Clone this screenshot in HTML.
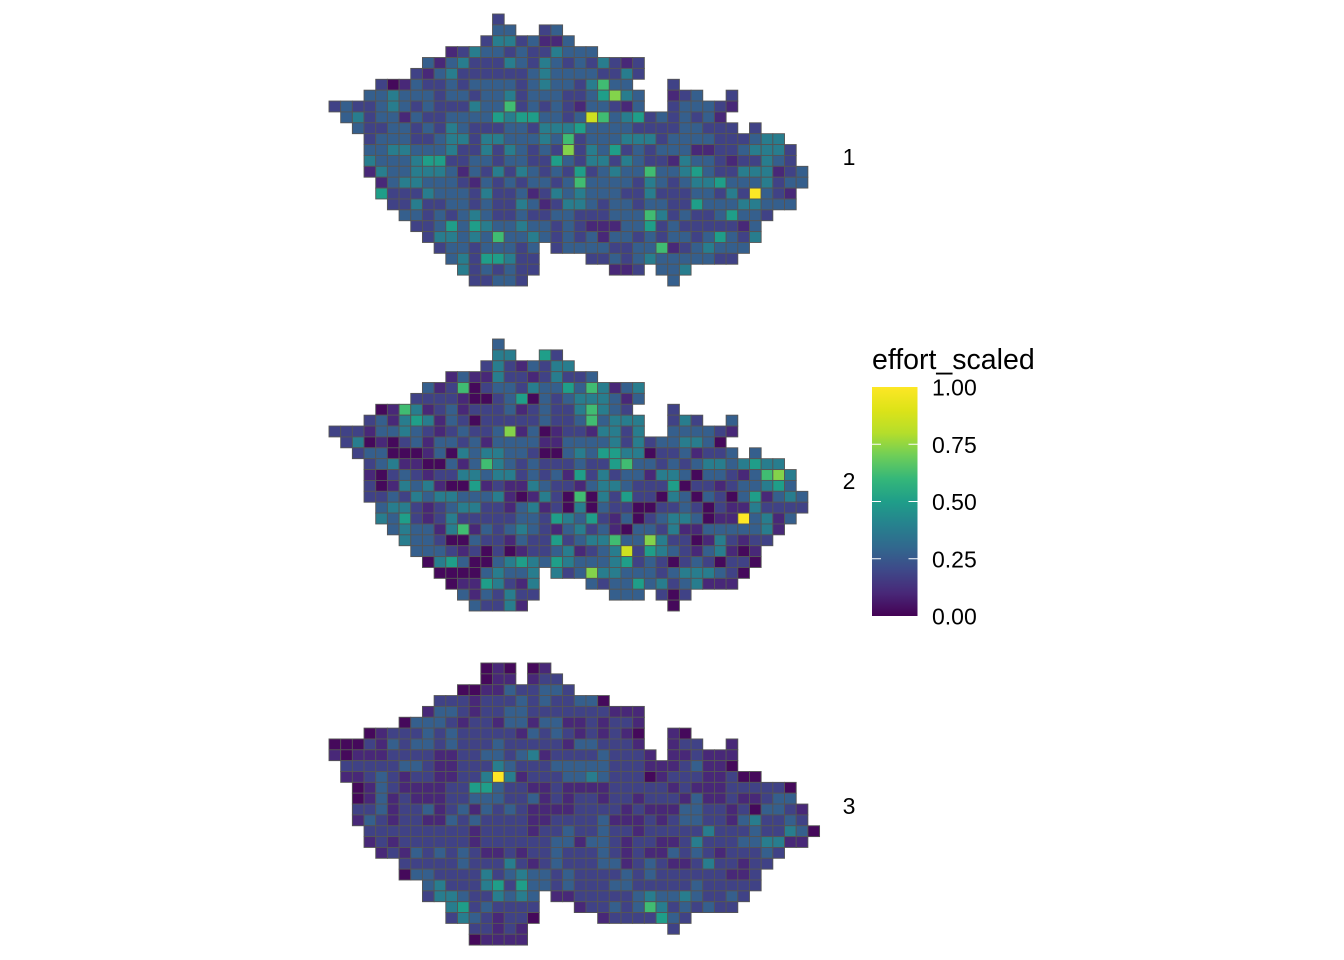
<!DOCTYPE html>
<html><head><meta charset="utf-8"><style>
html,body{margin:0;padding:0;background:#fff;}
svg{display:block;font-family:"Liberation Sans",Arial,sans-serif;}
</style></head><body>
<svg id="chart" width="1344" height="960" viewBox="0 0 1344 960" xmlns="http://www.w3.org/2000/svg">
<defs>
<linearGradient id="vir" x1="0" y1="1" x2="0" y2="0">
<stop offset="0" stop-color="#440154"/><stop offset="0.1" stop-color="#482878"/><stop offset="0.2" stop-color="#3e4989"/><stop offset="0.3" stop-color="#31688e"/><stop offset="0.4" stop-color="#26828e"/><stop offset="0.5" stop-color="#1f9e89"/><stop offset="0.6" stop-color="#35b779"/><stop offset="0.7" stop-color="#6ece58"/><stop offset="0.8" stop-color="#b5de2b"/><stop offset="0.9" stop-color="#dde318"/><stop offset="1" stop-color="#fde725"/>
</linearGradient>
</defs>
<g id="panels"></g>
<g id="legend">
<text x="872" y="369" font-size="28.5">effort_scaled</text>
<rect x="872" y="387" width="45.5" height="229" fill="url(#vir)"/>
<g id="legendTicks"></g>
</g>
</svg>
<script>
// value levels encoded as digits 0-9
const levelValues = [0.02,0.1,0.18,0.27,0.38,0.5,0.62,0.73,0.86,1.0];
const legendTicks = [0,0.25,0.5,0.75,1];
const legendLabels = ["0.00","0.25","0.50","0.75","1.00"];
const panelNames = ["1","2","3"];
// rows: list of [startCol, digits]
const panel1Rows = [
[[14,"2"]],
[[14,"33"],[18,"23"]],
[[13,"24423113"]],
[[10,"1243323224333"]],
[[8,"3134222432432324212"]],
[[7,"21342222223433332242"]],
[[4,"2013223233332343324633"],[29,"2"]],
[[3,"334333233233423332235743"],[29,"123"],[34,"2"]],
[[0,"232234323222433623232133213"],[29,"233321"]],
[[1,"342331322333354553323863452323231"]],
[[2,"322332324322233244453333222233222"],[36,"2"]],
[[3,"233322344244333436233344423333222344"]],
[[3,"3344333422424323272435232333112234442"]],
[[3,"4333455223323322532442432214332122432"]],
[[3,"14334443132424323252343363345322444123"]],
[[4,"1344333213232332363333243234453334233"]],
[[4,"522243332422312434333224222332429321"]],
[[5,"22422332322431244323323322533344333"]],
[[6,"33232343223223322233364232235332"]],
[[7,"223535433433232111335232222213"]],
[[8,"24434363343232313323233235324"]],
[[9,"233233323"],[19,"23333223361234333"]],
[[10,"34255422"],[22,"2232343333322"]],
[[11,"4232322"],[24,"112"],[28,"334"]],
[[12,"22332"],[29,"3"]]
];
const panel2Rows = [
[[14,"3"]],
[[14,"44"],[18,"52"]],
[[13,"24213244"]],
[[10,"1311422124223"]],
[[8,"3126023324335364134"]],
[[7,"22221002350323444313"]],
[[4,"0164123122231232246432"],[29,"2"]],
[[3,"231454132022222322363444"],[29,"242"],[34,"3"]],
[[0,"222133432123223713012214424"],[29,"333321"]],
[[1,"240102313323133331133334242334430"]],
[[2,"233000130434433200343554402231223"],[36,"3"]],
[[3,"234110031364323222322563323234434544"]],
[[3,"1023212244344232315242331443033213674"]],
[[3,"2014341005121143221344322250221233453"]],
[[3,"22324344333410142060425220430320351343"]],
[[4,"3442123442213412040322002232021142222"]],
[[4,"435212422222332543521302344301193413"]],
[[5,"3433146132343213423103324113333341"]],
[[6,"43320032213225234463374220142122"]],
[[7,"333212020122341234825432134101"]],
[[8,"04530034543543334523202320220"]],
[[9,"000034334"],[19,"42374433323444320"]],
[[10,"01154214"],[22,"3233534234111"]],
[[11,"3132422"],[24,"333"],[28,"202"]],
[[12,"32241"],[29,"0"]]
];
const panel3Rows = [
[[13,"010"],[17,"01"]],
[[13,"011"],[17,"122"]],
[[11,"0011322332"]],
[[9,"222122232322330"]],
[[8,"1332122332222222111"]],
[[6,"033321221331331121221"]],
[[3,"012223232222213232121210"],[29,"10"]],
[[0,"000213233232223222221332221"],[29,"122"],[34,"1"]],
[[0,"1011122221122332341222232221"],[29,"112111"]],
[[1,"2222233211222432223333322211123110"]],
[[1,"112321221122494122233432220122211200"]],
[[2,"01321111225532211211112222212111222220"]],
[[2,"01312111223332231212212212221311211233"]],
[[2,"223122312313232111122221211133221203321"]],
[[2,"132122113232222112222311121233221342232"]],
[[3,"222222222122221223223221222224222322430"]],
[[3,"12122222212222223313321221124222334411"]],
[[4,"12132323211212232223212113232122232"]],
[[6,"22222322242123222331232112422122"]],
[[6,"0332222423433232222323222222112"]],
[[8,"34222452533232223322222322222"]],
[[8,"2443224343"],[19,"11222223433432232"]],
[[10,"45232222"],[21,"12232364232322"]],
[[10,"24321220"],[23,"12222532"]],
[[12,"22121"],[29,"2"]],
[[12,"01111"]]
];
const panelsData = [panel1Rows, panel2Rows, panel3Rows];
</script>
<script>
const NS = "http://www.w3.org/2000/svg";
const stops = ["#440154","#482878","#3e4989","#31688e","#26828e","#1f9e89","#35b779","#6ece58","#b5de2b","#dde318","#fde725"];
function hex(c){return [1,3,5].map(i=>parseInt(c.substr(i,2),16));}
function viridis(v){
  v=Math.max(0,Math.min(1,v));
  const p=v*10, i=Math.min(9,Math.floor(p)), t=p-i;
  const a=hex(stops[i]), b=hex(stops[i+1]);
  return "rgb("+a.map((x,k)=>Math.round(x+(b[k]-x)*t)).join(",")+")";
}
const geom = [
  {x0:329, y0:14, cw:11.68, ch:10.88, ly:157},
  {x0:329, y0:339, cw:11.68, ch:10.88, ly:481},
  {x0:329, y0:663, cw:11.68, ch:10.85, ly:806}
];
const panelsG = document.getElementById("panels");
panelsData.forEach((rows, p) => {
  const g = geom[p];
  const pg = document.createElementNS(NS, "g");
  
  
  const xScale = c => g.x0 + c * g.cw;
  const yScale = r => g.y0 + r * g.ch;
  rows.forEach((segs, r) => {
    segs.forEach(seg => {
      const start = seg[0], digits = seg[1];
      for (let k = 0; k < digits.length; k++) {
        const v = levelValues[+digits[k]];
        const rc = document.createElementNS(NS, "rect");
        
        
        rc.setAttribute("x", xScale(start + k).toFixed(2));
        rc.setAttribute("y", yScale(r).toFixed(2));
        rc.setAttribute("width", g.cw.toFixed(2));
        rc.setAttribute("height", g.ch.toFixed(2));
        rc.setAttribute("fill", viridis(v));
        rc.setAttribute("stroke", "#555555");
        rc.setAttribute("stroke-width", "0.9");
        pg.appendChild(rc);
      }
    });
  });
  const t = document.createElementNS(NS, "text");
  
  
  t.setAttribute("x", 849); t.setAttribute("y", g.ly + 8);
  t.setAttribute("font-size", "23"); t.setAttribute("text-anchor", "middle");
  t.textContent = panelNames[p];
  pg.appendChild(t);
  panelsG.appendChild(pg);
});
const lt = document.getElementById("legendTicks");
const barTop = 387, barBot = 616;
const ly = v => barBot - v * (barBot - barTop);
legendTicks.forEach((v, i) => {
  const y = ly(v);
  if (v > 0 && v < 1) {
    [[872, 881], [908.5, 917.5]].forEach(xx => {
      const l = document.createElementNS(NS, "line");
      
      
      l.setAttribute("x1", xx[0]); l.setAttribute("x2", xx[1]);
      l.setAttribute("y1", y); l.setAttribute("y2", y);
      l.setAttribute("stroke", "#fff"); l.setAttribute("stroke-width", "1");
      lt.appendChild(l);
    });
  }
  const t = document.createElementNS(NS, "text");
  
  
  t.setAttribute("x", 932); t.setAttribute("y", y + 8.5);
  t.setAttribute("font-size", "23");
  t.textContent = legendLabels[i];
  lt.appendChild(t);
});
</script>
</body></html>
